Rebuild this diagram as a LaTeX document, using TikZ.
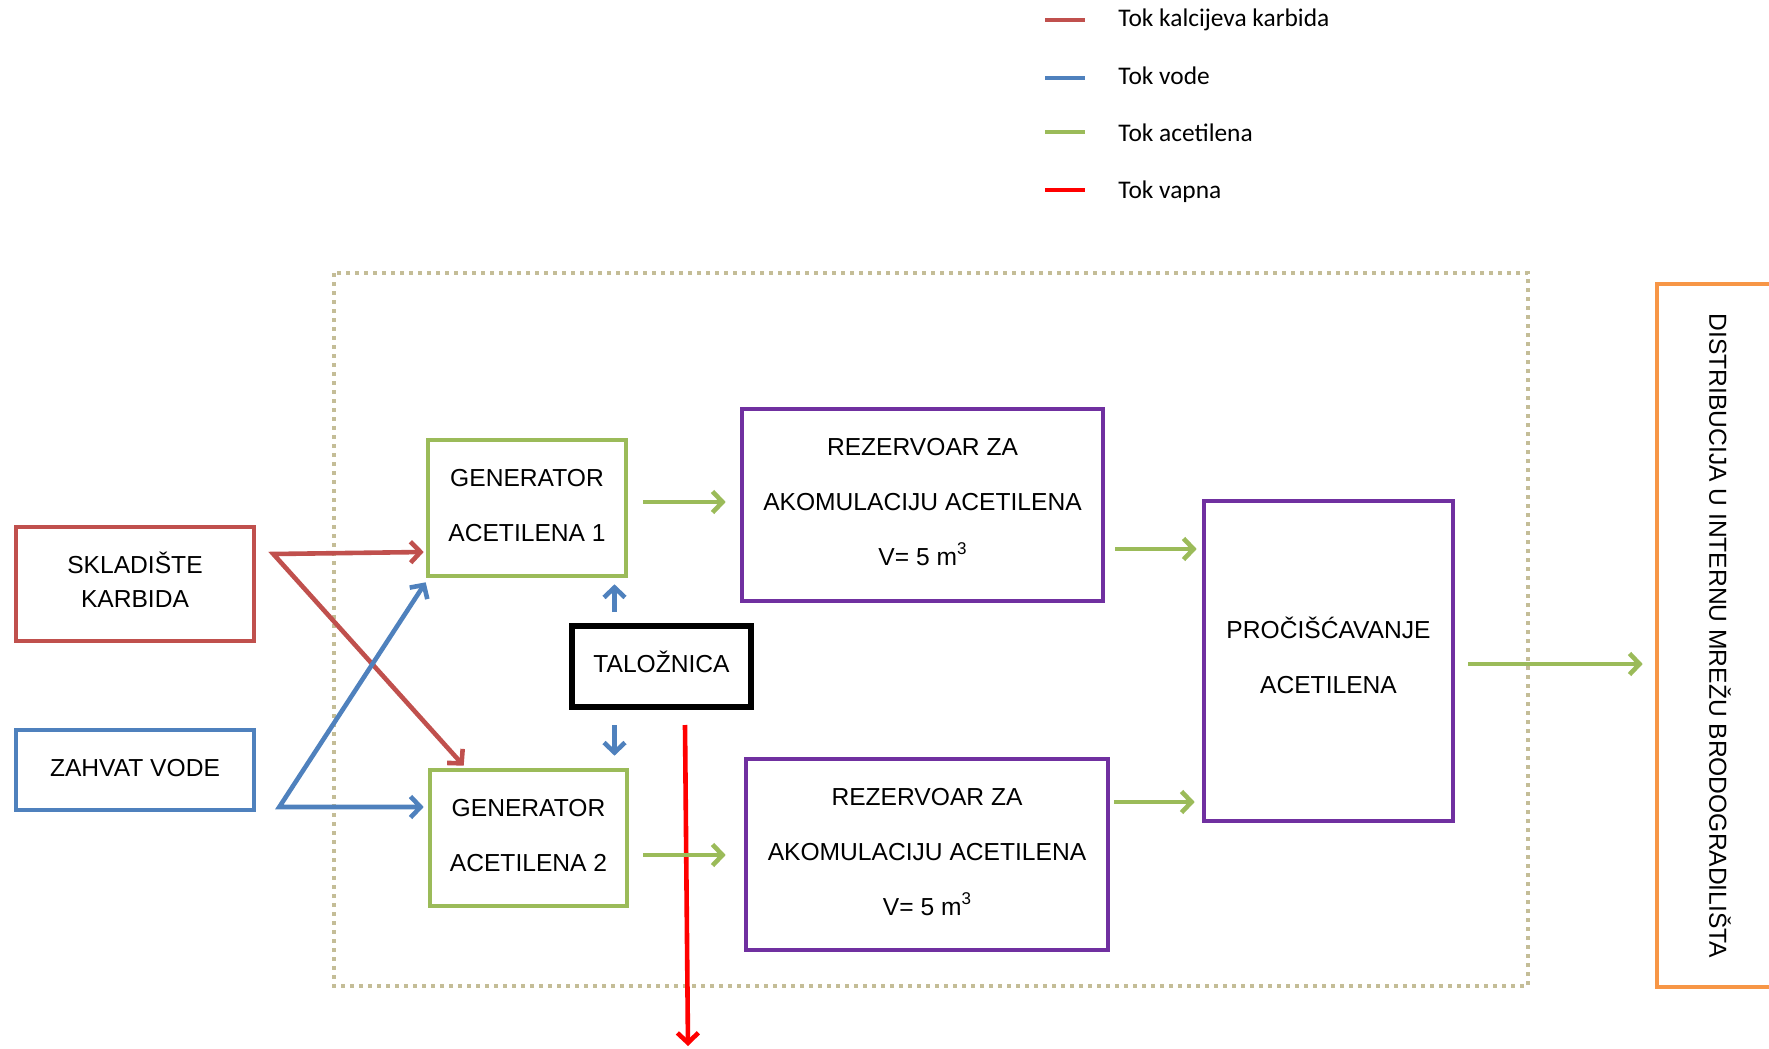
\documentclass[tikz,border=0pt]{standalone}
\usepackage{fontspec}
\setmainfont{Liberation Sans}
\newfontfamily\legfont{Carlito}
\usetikzlibrary{arrows.meta,calc}
\definecolor{cred}{HTML}{C0504D}
\definecolor{cblue}{HTML}{4F81BD}
\definecolor{cgreen}{HTML}{9BBB59}
\definecolor{cvap}{HTML}{FF0000}
\definecolor{cpurp}{HTML}{7030A0}
\definecolor{corange}{HTML}{F79646}
\definecolor{ctan}{HTML}{C4BD97}
\newcommand{\cubed}{\raisebox{0.45em}{\fontsize{8.5}{9}\selectfont 3}}
\begin{document}
\begin{tikzpicture}[x=0.5pt,y=-0.5pt,
  box/.style={draw, line width=2.3pt, rectangle, inner sep=0pt},
  txt/.style={inner sep=0pt, align=center, font=\fontsize{12.3}{27.5}\selectfont},
  flow/.style={line width=2.3pt, line join=miter, -{Straight Barb[length=5pt,width=10.5pt]}},
  flowtwo/.style={line width=2.3pt, line join=miter, {Straight Barb[length=5pt,width=10.5pt]}-{Straight Barb[length=5pt,width=10.5pt]}},
  legline/.style={line width=2.4pt},
  legtext/.style={font=\legfont\fontsize{12.7}{15}\selectfont, inner sep=0pt, anchor=base west}]
\useasboundingbox (0,0) rectangle (1769,1049);
\clip (0,0) rectangle (1769,1049);

% legend
\draw[legline, cred] (1045,20) -- (1085,20);
\node[legtext] (leg1) at (1118,26) {Tok kalcijeva karbida};
\draw[legline, cblue] (1045,78) -- (1085,78);
\node[legtext] (leg2) at (1118,84) {Tok vode};
\draw[legline, cblue!0!cgreen] (1045,132) -- (1085,132);
\node[legtext] (leg3) at (1118,141) {Tok acetilena};
\draw[legline, cvap] (1045,190) -- (1085,190);
\node[legtext] (leg4) at (1118,198) {Tok vapna};

% dotted plant boundary
\draw[ctan, line width=2pt, dash pattern=on 2pt off 2.5pt] (334,273) rectangle (1528,986);

% boxes
\node[box, draw=cred, minimum width=119pt, minimum height=57pt] (skl) at (135,584) {};
\node[box, draw=cblue, minimum width=119pt, minimum height=40pt] (zah) at (135,770) {};
\node[box, draw=cgreen, minimum width=99pt, minimum height=68pt] (gen1) at (527,508) {};
\node[box, draw=cgreen, minimum width=98.5pt, minimum height=68pt] (gen2) at (528.5,838) {};
\node[box, draw=black, line width=3pt, minimum width=89.5pt, minimum height=40.5pt] (tal) at (661.5,666.5) {};
\node[box, draw=cpurp, minimum width=180.5pt, minimum height=96pt] (rez1) at (922.5,505) {};
\node[box, draw=cpurp, minimum width=181pt, minimum height=95.5pt] (rez2) at (927,854.5) {};
\node[box, draw=cpurp, minimum width=124.5pt, minimum height=160pt] (pro) at (1328.5,661) {};
\node[box, draw=corange, minimum width=71.5pt, minimum height=351.5pt] (dist) at (1728.5,635.5) {};

% texts
\node[txt, font=\fontsize{12.3}{17}\selectfont] (sklt) at ($(skl.center)+(0,-4.5)$) {SKLADIŠTE\\KARBIDA};
\node[txt] (zaht) at ($(zah.center)+(0,-2)$) {ZAHVAT VODE};
\node[txt] (gen1t) at ($(gen1.center)+(0,-2)$) {GENERATOR\\ACETILENA 1};
\node[txt] (gen2t) at ($(gen2.center)+(0,-2)$) {GENERATOR\\ACETILENA 2};
\node[txt] (talt) at ($(tal.center)+(0,-5)$) {TALOŽNICA};
\node[txt] (rez1t) at ($(rez1.center)+(0,-3)$) {REZERVOAR ZA\\AKOMULACIJU ACETILENA\\V= 5 m\cubed};
\node[txt] (rez2t) at ($(rez2.center)+(0,-2)$) {REZERVOAR ZA\\AKOMULACIJU ACETILENA\\V= 5 m\cubed};
\node[txt] (prot) at ($(pro.center)+(0,-5.5)$) {PROČIŠĆAVANJE\\ACETILENA};
\node[rotate=-90, inner sep=0pt, font=\fontsize{12.3}{14}\selectfont] (distlbl) at (1720,636)
  {DISTRIBUCIJA U INTERNU MREŽU BRODOGRADILIŠTA};

% carbide flows
\coordinate (rs) at ($(skl.east)+(17,-30)$);
\draw[flowtwo, cred] ($(gen1.west)+(-2,44)$) -- (rs) -- ($(gen2.north west)+(36,-2)$);
% water flows
\coordinate (bs) at ($(zah.east)+(23,37)$);
\draw[flowtwo, cblue] ($(gen2.west)+(-4,-31)$) -- (bs) -- ($(gen1.south west)+(0,4)$);
% settling tank water
\coordinate (tu) at ($(tal.north)+(-47,-11)$);
\draw[flow, cblue] (tu) -- ($(tu |- gen1.south)+(0,6)$);
\coordinate (td) at ($(tal.south)+(-47,15)$);
\draw[flow, cblue] (td) -- ($(td |- gen2.north)+(0,-12)$);
% lime
\coordinate (lime) at (688,1046);
\draw[flow, cvap] ($(tal.south)+(23.5,15)$) -- (lime);

% acetylene flows
\draw[flow, cgreen] ($(gen1.east)+(15,-6)$) -- ($(rez1.west)+(-14,-3)$);
\draw[flow, cgreen] ($(gen2.east)+(14,17)$) -- ($(rez2.west)+(-18,0.5)$);
\draw[flow, cgreen] ($(rez1.east)+(10,44)$) -- ($(pro.west)+(-5,-112)$);
\draw[flow, cgreen] ($(rez2.east)+(4,-52.5)$) -- ($(pro.west)+(-7,141)$);
\draw[flow, cgreen] ($(pro.east)+(13,3)$) -- ($(dist.west)+(-12,28.5)$);
\end{tikzpicture}
\end{document}
